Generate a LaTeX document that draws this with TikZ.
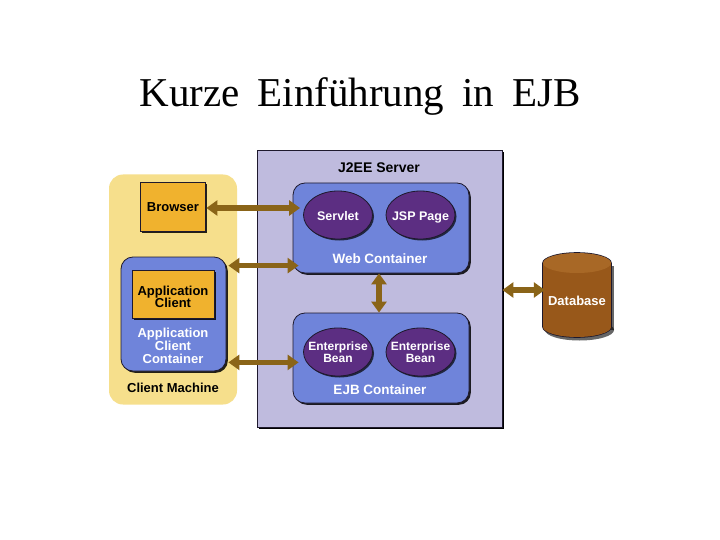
\documentclass[tikz,border=0pt]{standalone}
\usepackage{fontspec}
\setmainfont{Liberation Serif}
\setsansfont{Liberation Sans}
\usetikzlibrary{arrows.meta,shadows,calc,shapes.geometric}
\definecolor{lav}{RGB}{191,187,222}
\definecolor{cmyellow}{RGB}{246,223,140}
\definecolor{boxorange}{RGB}{240,178,46}
\definecolor{contblue}{RGB}{111,132,218}
\definecolor{beanpurple}{RGB}{92,46,130}
\definecolor{arrowbrown}{RGB}{138,100,24}
\definecolor{dbbrown}{RGB}{152,88,26}
\definecolor{dbtop}{RGB}{168,104,38}
\definecolor{darkline}{RGB}{30,25,45}
\tikzset{
  lbl/.style={font=\sffamily\bfseries\fontsize{13}{13}\selectfont, inner sep=0pt, align=center},
  wlbl/.style={lbl, text=white},
  sbox/.style={draw=darkline, line width=0.8pt, drop shadow={shadow xshift=1.8pt, shadow yshift=-1.8pt, opacity=0.85, fill=black}},
  orangebox/.style={sbox, fill=boxorange, inner sep=0pt},
  container/.style={sbox, fill=contblue, rounded corners=12pt, inner sep=0pt},
  bean/.style={ellipse, draw=darkline, line width=0.8pt, fill=beanpurple, inner sep=0pt,
     minimum width=69pt, minimum height=48pt,
     drop shadow={shadow xshift=1.5pt, shadow yshift=-1.5pt, opacity=0.7, fill=black}},
  beanlbl/.style={wlbl, font=\sffamily\bfseries\fontsize{12.5}{12.5}\selectfont},
  bigarrow/.style={draw=arrowbrown, line width=5.5pt, {Triangle[width=15pt,length=11pt]}-{Triangle[width=15pt,length=11pt]}}
}
\begin{document}
\begin{tikzpicture}[x=1pt,y=-1pt]
\useasboundingbox[fill=white] (0,0) rectangle (720,540);

% title
\node[anchor=base, inner sep=0pt, font=\fontsize{41}{44}\selectfont] (title) at (360,107) {Kurze\hspace{18pt}Einführung\hspace{18pt}in\hspace{18pt}EJB};

% server
\node[sbox, fill=lav, minimum width=245pt, minimum height=277pt, inner sep=0pt,
      drop shadow={shadow xshift=2.4pt, shadow yshift=-2.4pt, opacity=1, fill=black}] (server) at (379.5,288.5) {};
\node[lbl, font=\sffamily\bfseries\fontsize{14}{14}\selectfont] (srvlbl) at (379,168) {J2EE Server};

% client machine
\node[fill=cmyellow, rounded corners=14pt, minimum width=128pt, minimum height=230pt, inner sep=0pt] (cm) at (173,289.5) {};
\node[lbl] (cmlbl) at (173,388) {Client Machine};

\node[orangebox, minimum width=65pt, minimum height=49pt] (browser) at (173,207) {};
\node[lbl] at (browser) {Browser};

\node[container, minimum width=105pt, minimum height=114pt] (appc) at (173.5,314) {};
\node[orangebox, minimum width=82pt, minimum height=48pt] (appcl) at (173,294) {};
\node[lbl] (appcllbl) at (173,297) {Application\\[-0.5pt]Client};
\node[wlbl] (appclbl) at (173,345.5) {Application\\Client\\Container};

% web container
\node[container, minimum width=176pt, minimum height=90pt] (web) at (381,228) {};
\node[bean] (servlet) at (338,215) {};
\node[beanlbl] at ([yshift=-1pt]servlet.center) {Servlet};
\node[bean] (jsp) at (420.5,215) {};
\node[beanlbl] at ([yshift=-2pt]jsp.center) {JSP Page};
\node[wlbl, font=\sffamily\bfseries\fontsize{13.5}{13.5}\selectfont] (weblbl) at (380,259) {Web Container};

% ejb container
\node[container, minimum width=176pt, minimum height=90pt] (ejb) at (381,358) {};
\node[bean] (bean1) at (338,352) {};
\node[beanlbl, font=\sffamily\bfseries\fontsize{12}{12}\selectfont] at (bean1) {Enterprise\\[-0.5pt]Bean};
\node[bean] (bean2) at (420.5,352) {};
\node[beanlbl, font=\sffamily\bfseries\fontsize{12}{12}\selectfont] at (bean2) {Enterprise\\[-0.5pt]Bean};
\node[wlbl, font=\sffamily\bfseries\fontsize{13.5}{13.5}\selectfont] (ejblbl) at (380,390) {EJB Container};

% database
\node[minimum width=68pt, minimum height=64pt, inner sep=0pt] (db) at (577,295) {};
\fill[black, opacity=0.6] (545,266) rectangle (614,330);
\fill[black, opacity=0.6] (579.5,330) ellipse (34.5pt and 10.5pt);
\fill[darkline] (542.2,263) rectangle (611.8,327);
\fill[darkline] (577,327) ellipse (34.8pt and 10.8pt);
\fill[darkline] (577,263) ellipse (34.8pt and 10.8pt);
\fill[dbbrown] (543,263) rectangle (611,327);
\fill[dbbrown] (577,327) ellipse (34pt and 10pt);
\fill[dbtop] (577,263) ellipse (34pt and 10pt);
\node[wlbl] (dblbl) at (577,301) {Database};

% connectors
\draw[bigarrow] ([xshift=0.5pt,yshift=-1pt]browser.east) -- ([xshift=0.5pt,yshift=-1pt]browser.east -| web.west) -- ++(7,0);
\coordinate (a2) at ($(appc.north east)+(2,9)$);
\draw[bigarrow] (a2) -- ($(a2 -| web.west)+(6,0)$);
\coordinate (a3) at ($(appc.south east)+(2,-9)$);
\draw[bigarrow] (a3) -- ($(a3 -| ejb.west)+(6,0)$);
\draw[bigarrow] ([xshift=-2pt]web.south) -- ([xshift=-2pt]ejb.north);
\coordinate (dbp) at ([yshift=5pt,xshift=2pt]db.west);
\draw[bigarrow] (server.east |- dbp) -- (dbp);
\end{tikzpicture}
\end{document}
